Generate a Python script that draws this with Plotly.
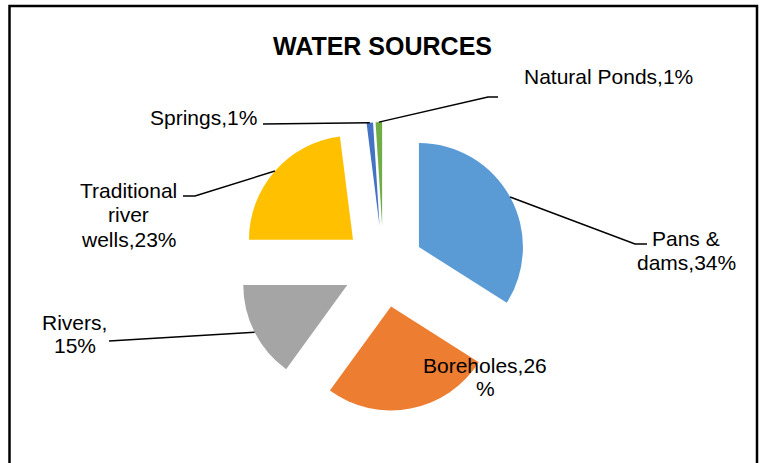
import math
import plotly.graph_objects as go

# ---- data ----
labels = ["Pans & dams", "Boreholes", "Rivers", "Traditional river wells", "Springs", "Natural Ponds"]
values = [34, 26, 15, 23, 1, 1]
colors = ["#5B9BD5", "#ED7D31", "#A5A5A5", "#FFC000", "#4472C4", "#70AD47"]
label_lines = [
    ["Pans &", "dams,34%"],
    ["Boreholes,26", "%"],
    ["Rivers,", "15%"],
    ["Traditional", "river", "wells,23%"],
    ["Springs,1%"],
    ["Natural Ponds,1%"],
]

# ---- layout constants (pixels) ----
W, H = 762, 463
PULL = 0.39
CX, CY, R = 383.4, 266.6, 104.0
BOX = 2 * R * (1 + PULL)
dom_x = [(CX - BOX / 2) / W, (CX + BOX / 2) / W]
dom_y = [1 - (CY + BOX / 2) / H, 1 - (CY - BOX / 2) / H]

# label text block: center x, first-line y, line spacing
label_pos = [(686, 238, 24), (485, 365, 23), (74.5, 322, 23), (128.5, 190, 24.5), (203, 117, 24), (608.5, 77, 24)]
# leader line: elbow point and end point (None = no leader)
leaders = [((635, 244), (647, 244)), None, ((109, 341), (109, 341)),
           ((195, 196), (183, 196)), ((263, 124), (263, 124)), ((488, 97), (498, 97))]

def px(x, y):
    return x / W, 1 - y / H

fig = go.Figure(go.Pie(
    labels=labels, values=values, sort=False, direction="clockwise", rotation=0,
    marker=dict(colors=colors, line=dict(width=0)), pull=[PULL] * len(values),
    textinfo="none", hoverinfo="label+percent", domain=dict(x=dom_x, y=dom_y),
    showlegend=False,
))

shapes = []
annotations = []
total = sum(values)
cum = 0
for i, v in enumerate(values):
    mid = (cum + v / 2) / total * 2 * math.pi
    cum += v
    tipx = CX + R * (1 + PULL) * math.sin(mid)
    tipy = CY - R * (1 + PULL) * math.cos(mid)
    if leaders[i] is not None:
        (ex, ey), (fx, fy) = leaders[i]
        p0, p1, p2 = px(tipx, tipy), px(ex, ey), px(fx, fy)
        shapes.append(dict(type="path", xref="paper", yref="paper",
                           path=f"M {p0[0]},{p0[1]} L {p1[0]},{p1[1]} L {p2[0]},{p2[1]}",
                           line=dict(color="black", width=1.5)))
    lx, ly, sp = label_pos[i]
    for j, t in enumerate(label_lines[i]):
        ax, ay = px(lx, ly + j * sp)
        annotations.append(dict(text=t, x=ax, y=ay, xref="paper", yref="paper",
                                xanchor="center", yanchor="middle", showarrow=False,
                                font=dict(family="Liberation Sans, Arial", size=21, color="black")))

# chart border
shapes.append(dict(type="rect", xref="paper", yref="paper",
                   x0=9.5 / W, x1=757 / W, y0=-0.05, y1=1 - 6 / H,
                   line=dict(color="black", width=2.5)))

annotations.append(dict(text="<b>WATER SOURCES</b>", x=px(383, 46)[0], y=px(383, 46)[1],
                        xref="paper", yref="paper", xanchor="center", yanchor="middle",
                        showarrow=False,
                        font=dict(family="Liberation Sans, Arial", size=25, color="black")))

fig.update_layout(width=W, height=H, margin=dict(l=0, r=0, t=0, b=0),
                  paper_bgcolor="white", plot_bgcolor="white",
                  shapes=shapes, annotations=annotations)
fig.write_html("out.html", config={"displayModeBar": False},
               post_script="document.body.style.margin='0';document.body.style.overflow='hidden';")
